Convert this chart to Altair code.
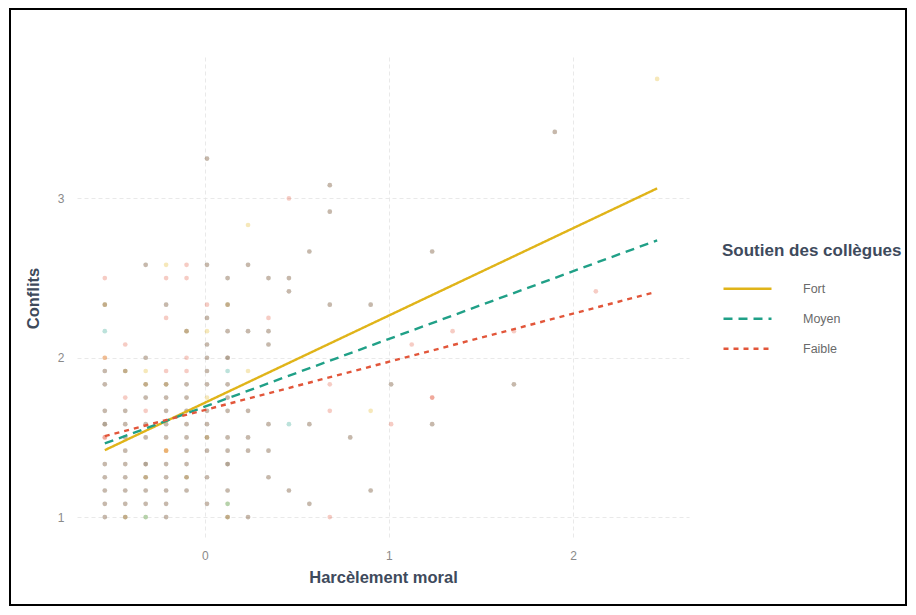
import altair as alt
import pandas as pd

# ---- scatter points (Harcèlement moral, Conflits, groups present at that spot) ----
# groups: F = Fort, M = Moyen, W = Faible (repeated letters = several respondents)
pt_x = [
    -0.543, -0.432, -0.321, -0.210, 0.124, 0.235, 0.679,
    -0.543, -0.432, -0.321, -0.210, 0.012, 0.124, 0.568,
    -0.543, -0.432, -0.321, -0.210, -0.099, 0.124, 0.457, 0.901,
    -0.543, -0.432, -0.321, -0.210, -0.099, 0.012, 0.346,
    -0.543, -0.432, -0.321, -0.210, -0.099, 0.124,
    -0.432, -0.210, -0.099, 0.012, 0.124, 0.235, 0.346,
    -0.543, -0.432, -0.321, -0.210, -0.099, 0.012, 0.124, 0.235, 0.790,
    -0.543, -0.432, -0.321, -0.210, -0.099, 0.012, 0.346, 0.457, 0.568, 1.012, 1.235,
    -0.543, -0.432, -0.321, -0.210, -0.099, 0.012, 0.124, 0.235, 0.679, 0.901,
    -0.432, -0.321, -0.210, -0.099, 0.012, 0.124, 1.235,
    -0.543, -0.321, -0.210, -0.099, 0.012, 0.124, 0.679, 1.012, 1.679,
    -0.543, -0.432, -0.321, -0.210, -0.099, 0.012, 0.124, 0.235,
    -0.543, -0.321, -0.099, 0.012, 0.124,
    -0.432, 0.012, 0.346, 1.124,
    -0.543, -0.099, 0.012, 0.124, 0.235, 0.346, 1.346, 1.679,
    -0.210, 0.012, 0.346,
    -0.543, -0.210, 0.012, 0.124, 0.679, 0.901,
    0.457, 2.124,
    -0.543, -0.210, -0.099, 0.124, 0.346, 0.457,
    -0.321, -0.210, -0.099, 0.012, 0.235,
    0.568, 1.235,
    0.235,
    0.679,
    0.457,
    0.679,
    0.012,
    1.901,
    2.457,
]
pt_y = [
    1.0, 1.0, 1.0, 1.0, 1.0, 1.0, 1.0,
    1.083, 1.083, 1.083, 1.083, 1.083, 1.083, 1.083,
    1.167, 1.167, 1.167, 1.167, 1.167, 1.167, 1.167, 1.167,
    1.25, 1.25, 1.25, 1.25, 1.25, 1.25, 1.25,
    1.333, 1.333, 1.333, 1.333, 1.333, 1.333,
    1.417, 1.417, 1.417, 1.417, 1.417, 1.417, 1.417,
    1.5, 1.5, 1.5, 1.5, 1.5, 1.5, 1.5, 1.5, 1.5,
    1.583, 1.583, 1.583, 1.583, 1.583, 1.583, 1.583, 1.583, 1.583, 1.583, 1.583,
    1.667, 1.667, 1.667, 1.667, 1.667, 1.667, 1.667, 1.667, 1.667, 1.667,
    1.75, 1.75, 1.75, 1.75, 1.75, 1.75, 1.75,
    1.833, 1.833, 1.833, 1.833, 1.833, 1.833, 1.833, 1.833, 1.833,
    1.917, 1.917, 1.917, 1.917, 1.917, 1.917, 1.917, 1.917,
    2.0, 2.0, 2.0, 2.0, 2.0,
    2.083, 2.083, 2.083, 2.083,
    2.167, 2.167, 2.167, 2.167, 2.167, 2.167, 2.167, 2.167,
    2.25, 2.25, 2.25,
    2.333, 2.333, 2.333, 2.333, 2.333, 2.333,
    2.417, 2.417,
    2.5, 2.5, 2.5, 2.5, 2.5, 2.5,
    2.583, 2.583, 2.583, 2.583, 2.583,
    2.667, 2.667,
    2.833,
    2.917,
    3.0,
    3.083,
    3.25,
    3.417,
    3.75,
]
pt_groups = [
    "MW", "FMW", "FM", "MW", "FMW", "MW", "W",
    "MW", "MW", "MW", "MW", "MW", "FM", "MW",
    "MW", "MW", "MW", "MW", "MW", "MW", "MW", "MW",
    "MW", "MW", "FMW", "MW", "FMW", "MW", "MW",
    "MW", "MW", "WWM", "MW", "MW", "WWM",
    "MW", "FFW", "MW", "MW", "MW", "MW", "MW",
    "WW", "MW", "MW", "MW", "MW", "FMW", "MW", "MW", "MW",
    "WWM", "MW", "MW", "MW", "MW", "MW", "MW", "M", "MW", "W", "MW",
    "MW", "MW", "W", "MW", "MW", "MW", "MW", "MW", "W", "F",
    "W", "MW", "MW", "MW", "F", "MW", "WW",
    "MW", "FMW", "FMW", "MW", "MW", "MW", "W", "MW", "MW",
    "MW", "FMW", "F", "W", "W", "MW", "M", "F",
    "FW", "MW", "W", "MW", "WWM",
    "W", "MW", "MW", "W",
    "M", "FMW", "F", "MW", "MW", "MW", "W", "W",
    "W", "MW", "W",
    "FMW", "MW", "W", "FMW", "MW", "MW",
    "MW", "W",
    "W", "W", "W", "MW", "MW", "MW",
    "MW", "F", "W", "MW", "MW",
    "MW", "MW",
    "F",
    "MW",
    "W",
    "MW",
    "MW",
    "MW",
    "F",
]

# ---- fitted lines per level of "Soutien des collègues" ----
line_groups = ["Fort", "Moyen", "Faible"]
line_x0 = [-0.543, -0.543, -0.543]
line_y0 = [1.42, 1.462, 1.508]
line_x1 = [2.457, 2.457, 2.44]
line_y1 = [3.063, 2.737, 2.41]

colors = ["#E0B419", "#20A087", "#E2563A"]
dashes = [[1, 0], [9, 6], [5, 5]]
x_ticks = [0, 1, 2]
y_ticks = [1, 2, 3]

code_color = {"F": colors[0], "M": colors[1], "W": colors[2]}
rows = []
for x, y, g in zip(pt_x, pt_y, pt_groups):
    for c in g:
        rows.append({"x": x, "y": y, "hex": code_color[c]})
points_df = pd.DataFrame(rows)

line_rows = []
for g, a, b, c, d in zip(line_groups, line_x0, line_y0, line_x1, line_y1):
    line_rows.append({"x": a, "y": b, "soutien": g})
    line_rows.append({"x": c, "y": d, "soutien": g})
lines_df = pd.DataFrame(line_rows)

FONT = "Liberation Sans"
xscale = alt.Scale(domain=[-0.694, 2.63], nice=False, zero=False)
yscale = alt.Scale(domain=[0.8625, 3.8875], nice=False, zero=False)

axis_common = dict(
    domain=False, ticks=False, grid=True, gridColor="#E3E3E3", gridDash=[4, 3],
    gridWidth=0.8, labelColor="#8A8A8A", labelFontSize=12, labelFont=FONT,
    titleColor="#3E4A5C", titleFont=FONT, titleFontSize=16.5,
    titleFontWeight="bold",
)

xaxis = alt.Axis(values=x_ticks, title="Harcèlement moral", labelPadding=11,
                 titlePadding=8, **axis_common)
yaxis = alt.Axis(values=y_ticks, title="Conflits", labelPadding=13,
                 titlePadding=16, **axis_common)

legend = alt.Legend(
    title="Soutien des collègues", orient="none", legendX=645, legendY=186,
    symbolType="stroke", symbolSize=2304, symbolStrokeWidth=2.5, symbolOpacity=1,
    labelFont=FONT, labelFontSize=12.5, labelColor="#6A6A6A",
    titleFont=FONT, titleFontSize=17, titleColor="#3E4A5C", titleLimit=400,
    titleFontWeight="bold", titlePadding=14, labelOffset=30, rowPadding=0,
    clipHeight=29.5,
)

frame = alt.Chart(pd.DataFrame({"a": [0]})).mark_rect(
    fillOpacity=0, stroke="black", strokeWidth=2, clip=False
).encode(
    x=alt.value(-67), x2=alt.value(829), y=alt.value(-48), y2=alt.value(548)
)

points = alt.Chart(points_df).mark_circle(size=22, opacity=0.3).encode(
    x=alt.X("x:Q", scale=xscale, axis=xaxis),
    y=alt.Y("y:Q", scale=yscale, axis=yaxis),
    color=alt.Color("hex:N", scale=None),
)

lines = alt.Chart(lines_df).mark_line(strokeWidth=2.4, opacity=1).encode(
    x=alt.X("x:Q", scale=xscale, axis=xaxis),
    y=alt.Y("y:Q", scale=yscale, axis=yaxis),
    color=alt.Color("soutien:N", scale=alt.Scale(domain=line_groups, range=colors),
                    sort=line_groups, legend=legend),
    strokeDash=alt.StrokeDash("soutien:N", scale=alt.Scale(domain=line_groups, range=dashes),
                              sort=line_groups, legend=legend),
    detail="soutien:N",
)

chart = alt.layer(frame, points, lines).properties(
    width=612, height=482,
    padding={"left": 69, "top": 49, "right": 219, "bottom": 68},
    autosize=alt.AutoSizeParams(type="none"),
    background="white",
).configure_view(stroke=None).configure_legend(symbolOpacity=1)

chart.save("out.html", embed_options={"renderer": "svg", "actions": False})
